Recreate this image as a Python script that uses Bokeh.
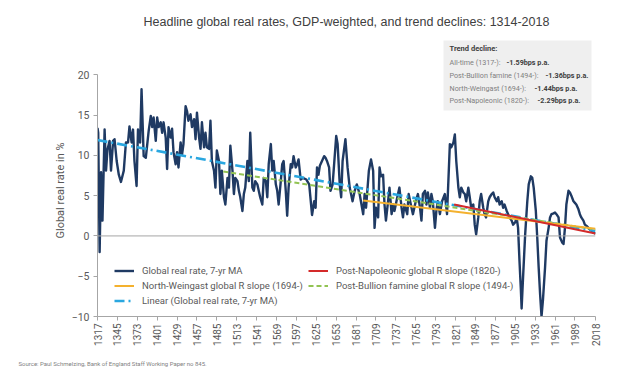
from math import pi
from bokeh.plotting import figure
from bokeh.models import Range1d, FixedTicker, Span, Label, BoxAnnotation, Legend, LegendItem, Title
from bokeh.embed import file_html
from bokeh.resources import INLINE

# ---- data ----
years = [1317, 1318, 1320, 1322, 1324, 1327, 1329, 1331, 1334, 1336, 1339, 1341, 1344, 1347, 1350,
         1354, 1357, 1360, 1362, 1365, 1367, 1369, 1372, 1374, 1377, 1379,
         1382, 1385, 1389, 1392, 1394, 1396, 1399, 1401, 1403, 1406, 1408, 1410, 1413, 1415, 1417,
         1420, 1422, 1424, 1427, 1429, 1431, 1434, 1436, 1438, 1441, 1443, 1445, 1448, 1450, 1453,
         1455, 1457, 1460, 1462, 1464, 1467, 1469, 1471, 1474, 1476, 1478, 1481, 1483, 1485, 1488,
         1490, 1492, 1495, 1497, 1500, 1502, 1504, 1507, 1509, 1511, 1514, 1516, 1518, 1521, 1523,
         1525, 1528, 1530, 1532, 1535, 1537, 1539, 1542, 1544, 1546, 1549, 1551, 1554, 1556, 1558,
         1561, 1563, 1565, 1568, 1570, 1572, 1575, 1577, 1579, 1582, 1584, 1586, 1589, 1591, 1593,
         1596, 1598, 1600, 1603,
         1606, 1611, 1615, 1619, 1622, 1624, 1626, 1628, 1630, 1633, 1636, 1638, 1640, 1643, 1645,
         1648, 1653, 1655, 1658, 1660, 1662, 1666, 1669, 1672, 1676, 1679, 1682, 1686, 1691, 1693,
         1695, 1699, 1702, 1705, 1707, 1709, 1712, 1714, 1716, 1719, 1721, 1723, 1726, 1728, 1731,
         1733, 1735, 1739, 1742, 1745, 1747, 1749, 1753, 1755, 1759, 1761, 1765, 1768, 1771, 1773,
         1775, 1778, 1780, 1782, 1785, 1787, 1789, 1792, 1794, 1796, 1799, 1802, 1806, 1809, 1813,
         1815, 1818, 1820, 1822, 1825, 1827, 1829, 1832, 1834, 1836, 1839, 1841, 1843, 1846, 1848,
         1850, 1853, 1855, 1857, 1860, 1862, 1864, 1867, 1869, 1872, 1874, 1876, 1879, 1881, 1883,
         1886, 1888, 1890, 1893, 1895, 1897, 1900, 1902, 1905, 1907, 1909, 1911, 1913, 1914, 1916,
         1919, 1922, 1924, 1927, 1929, 1931, 1934, 1936, 1938, 1940, 1942, 1944, 1947, 1949, 1952,
         1954, 1956, 1959, 1961, 1963, 1966, 1968, 1971, 1973, 1975, 1977, 1980, 1982, 1984, 1987,
         1989, 1991, 1994, 1996, 1998, 2001, 2003, 2006, 2008, 2010, 2013, 2015, 2018]
rates = [13.4, 12.8, -2.0, 7.9, 1.9, 13.2, 8.1, 10.7, 11.8, 8.1, 11.8, 12.0, 9.3, 7.6, 6.7,
         8.1, 11.6, 11.6, 13.6, 11.6, 13.2, 9.3, 6.2, 13.2, 11.6, 18.2,
         9.9, 9.7, 13.0, 14.9, 13.5, 14.7, 11.8, 14.7, 13.5, 14.1, 12.8, 14.1, 12.2, 8.3, 13.5,
         12.2, 13.3, 10.4, 8.9, 10.4, 8.5, 11.6, 10.1, 11.4, 16.1, 15.5, 14.3, 15.1, 13.5, 14.5,
         12.0, 15.3, 12.2, 10.8, 14.1, 11.0, 12.8, 11.0, 10.8, 14.3, 9.3, 8.1, 6.0, 10.6, 9.3,
         5.2, 8.1, 4.8, 3.9, 7.2, 6.0, 11.2, 8.1, 5.2, 7.2, 6.8, 5.6, 4.8, 3.1, 5.2,
         6.0, 9.3, 6.8, 12.8, 6.0, 5.6, 6.8, 6.4, 5.6, 4.8, 3.9, 7.2, 6.8, 4.8, 8.9,
         11.4, 8.1, 9.3, 6.4, 5.6, 3.9, 6.8, 8.9, 9.3, 5.6, 2.5, 6.0, 8.9, 8.5, 9.9,
         8.5, 8.9, 9.5, 7.0,
         7.2, 7.0, 6.4, 2.6, 4.3, 3.5, 8.5, 7.6, 8.7, 9.3, 9.9, 9.7, 9.3, 8.5, 5.6,
         6.4, 12.4, 11.4, 6.4, 4.8, 9.3, 12.0, 8.5, 6.0, 4.3, 5.6, 6.4, 5.2, 2.7, 5.2,
         3.5, 8.1, 9.5, 8.1, 1.0, 3.5, 2.3, 8.5, 7.4, 7.6, 3.9, 1.9, 4.3, 6.0, 2.7,
         3.9, 3.1, 4.8, 6.0, 3.5, 2.3, 3.9, 2.7, 5.2, 3.5, 2.7, 4.3, 5.2, 3.5, 1.9,
         5.2, 5.6, 3.9, 5.4, 3.5, 5.2, 4.3, 1.0, 3.1, 4.3, 2.7, 4.3, 5.2, 2.7, 11.4,
         11.0, 11.6, 12.6, 9.3, 6.0, 4.8, 6.0, 5.4, 5.2, 4.3, 6.0, 4.8, 3.5, 3.9, 1.4,
         0.2, 2.3, 4.3, 5.2, 3.5, 2.7, 2.3, 4.3, 4.8, 5.2, 5.4, 4.8, 4.3, 4.8, 3.9,
         4.3, 3.5, 3.9, 3.1, 2.7, 2.3, 1.9, 1.4, 1.7, 2.3, 1.0, -3.1, -6.8, -9.0, -5.2,
         0.2, 4.3, 6.4, 7.4, 7.2, 6.0, 3.1, -0.2, -3.9, -7.2, -10.0, -8.0, -3.9, -0.6, 1.0,
         2.3, 2.7, 2.8, 2.9, 2.7, 2.3, -0.2, -0.8, -1.0, 1.0, 3.9, 5.6, 5.4, 5.0, 4.3,
         4.1, 3.9, 3.3, 2.7, 2.3, 1.9, 1.4, 1.2, 1.0, 0.8, 0.6, 0.4, 0.3]

trend_all_years = [1317, 2018]
trend_all_vals = [11.9, 0.6]
trend_bullion_years = [1494, 2018]
trend_bullion_vals = [8.0, 0.8]
trend_nw_years = [1691, 2018]
trend_nw_vals = [4.4, 0.9]
trend_nap_years = [1819, 2018]
trend_nap_vals = [3.9, 0.3]

x_ticks = [1317, 1345, 1373, 1401, 1429, 1457, 1485, 1513, 1541, 1569, 1597, 1625, 1653,
           1681, 1709, 1737, 1765, 1793, 1821, 1849, 1877, 1905, 1933, 1961, 1989, 2018]
y_ticks = [-10, -5, 0, 5, 10, 15, 20]

title_text = "Headline global real rates, GDP-weighted, and trend declines: 1314-2018"
y_title = "Global real rate in %"
box_head = "Trend decline:"
box_names = ["All-time (1317-): ", "Post-Bullion famine (1494-): ",
             "North-Weingast (1694-): ", "Post-Napoleonic (1820-): "]
box_values = ["-1.59bps p.a.", "-1.36bps p.a.", "-1.44bps p.a.", "-2.29bps p.a."]
source_text = "Source: Paul Schmelzing, Bank of England Staff Working Paper no 845."

# ---- styling ----
FONT = "Roboto"
GREY = "#595959"
NAVY = "#1f3a63"
BLUE = "#2aa7e0"
GREEN = "#92c353"
ORANGE = "#f4b12e"
RED = "#d42a2a"

# frame: x 97..595, y 34..316 (value 20 sits at y=74; upper part holds the note box)
p = figure(width=616, height=382, x_range=Range1d(1317, 2018), y_range=Range1d(-10, 25),
           output_backend="svg", toolbar_location=None,
           min_border_left=97, min_border_right=21, min_border_top=34, min_border_bottom=66)
p.outline_line_color = None
p.xgrid.visible = False
p.ygrid.visible = False

p.title.text = title_text
p.title.align = "center"
p.title.text_font = "Liberation Sans"
p.title.text_font_size = "12.5px"
p.title.text_font_style = "normal"
p.title.text_color = "#404040"
p.title.standoff = 12

for ax in (p.xaxis[0], p.yaxis[0]):
    ax.axis_line_color = "#a6a6a6"
    ax.major_tick_line_color = "#a6a6a6"
    ax.minor_tick_line_color = None
    ax.major_tick_out = 4
    ax.major_tick_in = 0
    ax.major_label_text_font = FONT
    ax.major_label_text_font_size = "10px"
    ax.major_label_text_color = GREY

p.xaxis.ticker = FixedTicker(ticks=x_ticks)
p.xaxis.major_label_orientation = pi / 2
p.xaxis.major_label_standoff = 3
p.yaxis.ticker = FixedTicker(ticks=y_ticks)
p.yaxis.bounds = (-10, 20)
p.yaxis.major_label_standoff = 4
p.yaxis.major_label_text_font_size = "10.5px"

p.add_layout(Title(text=y_title, align="left", offset=78, standoff=4,
                   text_font=FONT, text_font_size="11px", text_font_style="normal",
                   text_color=GREY), "left")
p.add_layout(Title(text=source_text, align="left", offset=-79, standoff=22,
                   vertical_align="top", text_font=FONT, text_font_size="6px",
                   text_font_style="normal", text_color="#7f7f7f"), "below")

p.add_layout(Span(location=0, dimension="width", line_color="#a6a6a6", line_width=1))

p.line(years, rates, line_color="white", line_width=4.2, line_alpha=0.8)
r_main = p.line(years, rates, line_color=NAVY, line_width=2.4, line_join="round")
r_all = p.line(trend_all_years, trend_all_vals, line_color=BLUE, line_width=2.6, line_dash="10 4 2 4")
r_bul = p.line(trend_bullion_years, trend_bullion_vals, line_color=GREEN, line_width=2, line_dash="5 3")
r_nw = p.line(trend_nw_years, trend_nw_vals, line_color=ORANGE, line_width=2)
r_nap = p.line(trend_nap_years, trend_nap_vals, line_color=RED, line_width=2)

def mk_legend(items, loc):
    return Legend(items=items, location=loc, orientation="vertical",
                  background_fill_alpha=0, border_line_color=None, padding=0, margin=0,
                  spacing=0, glyph_width=20, glyph_height=15, label_height=15,
                  label_standoff=8, label_text_font=FONT, label_text_font_size="9.5px",
                  label_text_color=GREY)

leg1 = mk_legend([LegendItem(label="Global real rate, 7-yr MA", renderers=[r_main]),
                  LegendItem(label="North-Weingast global R slope (1694-)", renderers=[r_nw]),
                  LegendItem(label="Linear (Global real rate, 7-yr MA)", renderers=[r_all])],
                 (17, 8))
leg2 = mk_legend([LegendItem(label="Post-Napoleonic global R slope (1820-)", renderers=[r_nap]),
                  LegendItem(label="Post-Bullion famine global R slope (1494-)", renderers=[r_bul])],
                 (211, 23))
p.add_layout(leg1, "center")
p.add_layout(leg2, "center")

# ---- note box (screen units, relative to the frame's lower-left corner) ----
p.add_layout(BoxAnnotation(left=346, right=494, top=276, bottom=206,
                           left_units="screen", right_units="screen",
                           top_units="screen", bottom_units="screen",
                           fill_color="#efefef", fill_alpha=1, line_color=None))
p.add_layout(Label(x=352, y=268, x_units="screen", y_units="screen", text=box_head,
                   text_baseline="middle", text_font=FONT, text_font_size="7.5px",
                   text_font_style="bold", text_color="#404040"))
row_y = [254, 241, 228, 216]
val_x = [409, 448, 437, 440]
for name, val, yy, vx in zip(box_names, box_values, row_y, val_x):
    p.add_layout(Label(x=352, y=yy, x_units="screen", y_units="screen", text=name,
                       text_baseline="middle", text_font=FONT, text_font_size="7.2px",
                       text_color="#7f7f7f"))
    p.add_layout(Label(x=vx, y=yy, x_units="screen", y_units="screen", text=val,
                       text_baseline="middle", text_font=FONT, text_font_size="7.2px",
                       text_font_style="bold", text_color="#404040"))

open("out.html", "w").write(file_html(p, INLINE))
